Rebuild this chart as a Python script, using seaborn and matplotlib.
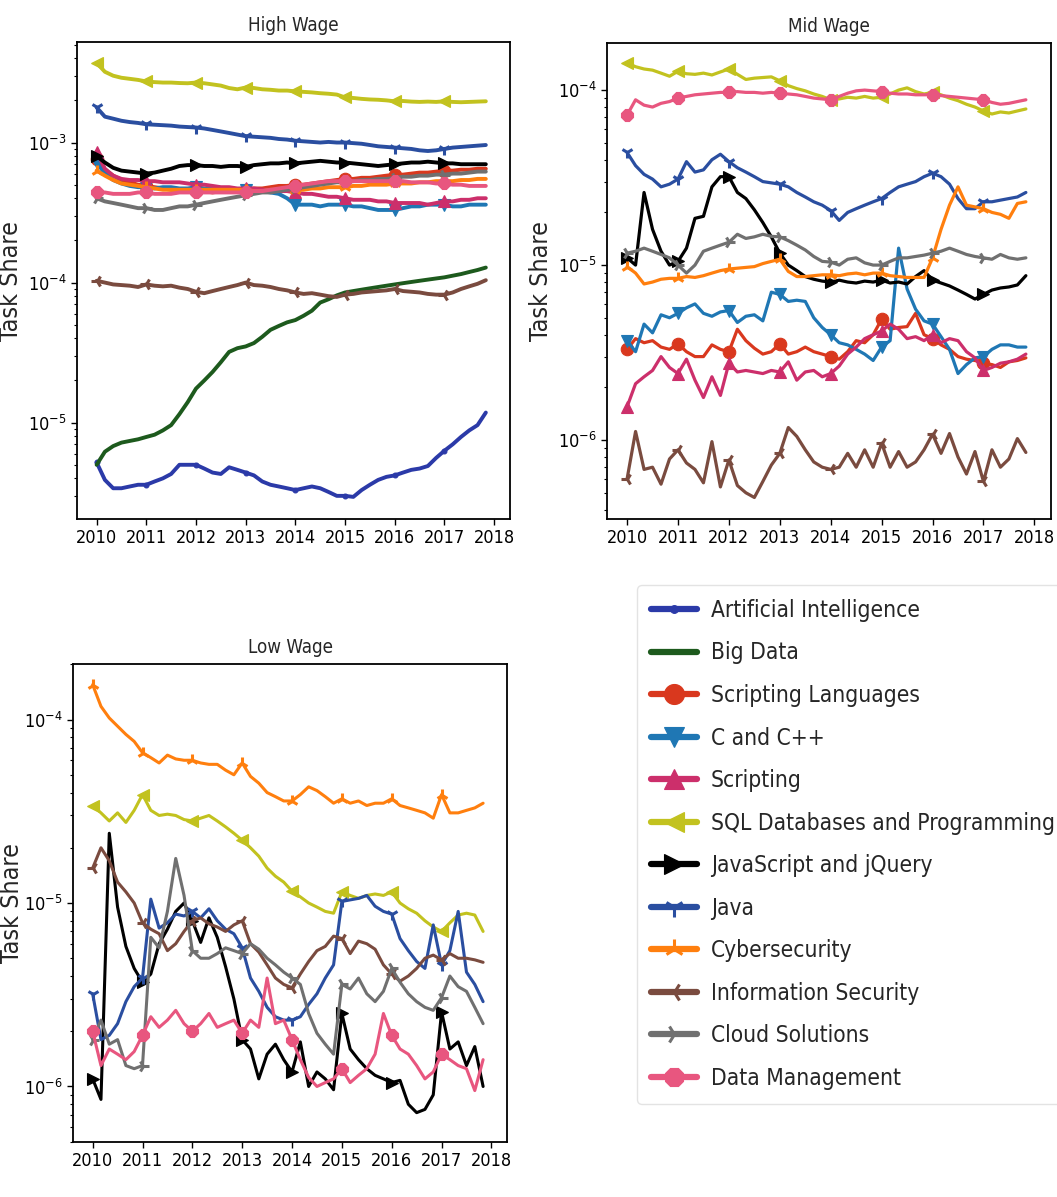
import numpy as np
import pandas as pd
import matplotlib
matplotlib.use('Agg')
import matplotlib.pyplot as plt
from matplotlib import font_manager as fm
import seaborn as sns

# bi-monthly sampling, Jan 2010 .. Nov 2017
dates = pd.date_range('2010-01-01', periods=48, freq='2MS')
years = np.array(dates.year + (dates.month - 1) / 12.0)

skills = ['Artificial Intelligence', 'Big Data', 'Scripting Languages', 'C and C++',
          'Scripting', 'SQL Databases and Programming', 'JavaScript and jQuery', 'Java',
          'Cybersecurity', 'Information Security', 'Cloud Solutions', 'Data Management']
colors = ['#2b3aa8', '#1d5a1d', '#d9381e', '#1f77b4', '#cc2f6b', '#c2c21f',
          '#000000', '#2a4ea0', '#ff7f0e', '#7a4b3f', '#707070', '#e8567f']
markers = ['.', ',', 'o', 'v', '^', '<', '>', '1', '2', '3', '4', '8']

# ---- High wage ----
high_ai = np.array([5.2, 3.9, 3.4, 3.4, 3.5, 3.6, 3.6, 3.8, 4.0, 4.3, 5.0, 5.0,
                    5.0, 4.7, 4.4, 4.3, 4.8, 4.6, 4.4, 4.2, 3.8, 3.6, 3.5, 3.4,
                    3.3, 3.4, 3.5, 3.4, 3.2, 3.0, 3.0, 2.95, 3.3, 3.6, 3.9, 4.1,
                    4.2, 4.4, 4.6, 4.7, 4.9, 5.6, 6.3, 7.0, 7.9, 8.8, 9.6, 11.8]) * 1e-6
high_bigdata = np.array([5.0, 6.2, 6.8, 7.2, 7.4, 7.6, 7.9, 8.2, 8.8, 9.6, 11.5, 14.0,
                         17.5, 20, 23, 27, 32, 34, 35, 37, 41, 46, 49, 52,
                         54, 58, 63, 72, 76, 81, 85, 87, 89, 91, 93, 95,
                         97, 99, 101, 103, 105, 107, 109, 112, 115, 119, 123, 128]) * 1e-6
high_scriptlang = np.array([7.6, 6.4, 5.8, 5.4, 5.2, 5.0, 4.9, 4.8, 4.7, 4.6, 4.6, 4.5,
                            4.5, 4.5, 4.4, 4.5, 4.5, 4.6, 4.6, 4.7, 4.7, 4.8, 4.9, 4.9,
                            5.0, 5.0, 5.1, 5.2, 5.3, 5.4, 5.5, 5.5, 5.6, 5.6, 5.7, 5.8,
                            5.9, 5.9, 6.0, 6.1, 6.1, 6.2, 6.3, 6.3, 6.4, 6.4, 6.5, 6.5]) * 1e-4
high_c = np.array([7.2, 6.0, 5.4, 5.1, 4.9, 4.8, 4.8, 4.7, 4.8, 4.8, 4.7, 4.7,
                   4.8, 4.7, 4.7, 4.7, 4.6, 4.6, 4.6, 4.5, 4.5, 4.4, 4.3, 4.0,
                   3.6, 3.6, 3.6, 3.5, 3.6, 3.6, 3.6, 3.5, 3.5, 3.4, 3.3, 3.3,
                   3.3, 3.4, 3.5, 3.5, 3.6, 3.6, 3.6, 3.5, 3.5, 3.6, 3.6, 3.6]) * 1e-4
high_scripting = np.array([8.6, 6.5, 5.8, 5.5, 5.4, 5.4, 5.3, 5.3, 5.2, 5.2, 5.2, 5.1,
                           5.0, 5.0, 4.9, 4.8, 4.8, 4.7, 4.7, 4.7, 4.6, 4.6, 4.5, 4.5,
                           4.4, 4.3, 4.3, 4.2, 4.1, 4.1, 4.0, 3.9, 3.9, 3.9, 3.8, 3.8,
                           3.7, 3.7, 3.7, 3.7, 3.6, 3.7, 3.8, 3.8, 3.9, 3.9, 4.0, 4.0]) * 1e-4
high_sql = np.array([37, 32, 30, 29, 28.5, 28, 27.3, 27, 26.8, 26.8, 26.6, 26.5,
                     26.8, 26.5, 26, 25.5, 24.5, 24, 24.7, 24.5, 24, 23.8, 23.5, 23.5,
                     23.2, 23, 22.8, 22.5, 22.3, 22, 21, 20.8, 20.5, 20.3, 20.2, 20,
                     19.7, 19.8, 19.6, 19.5, 19.6, 19.5, 19.7, 19.5, 19.4, 19.5, 19.6, 19.7]) * 1e-4
high_js = np.array([8.0, 7.2, 6.6, 6.3, 6.2, 6.1, 6.0, 6.1, 6.3, 6.5, 6.8, 6.9,
                    6.9, 6.8, 6.8, 6.7, 6.8, 6.8, 6.7, 6.9, 7.0, 7.1, 7.1, 7.2,
                    7.1, 7.2, 7.3, 7.4, 7.3, 7.2, 7.2, 7.1, 7.0, 6.9, 6.8, 6.9,
                    7.0, 7.1, 7.2, 7.2, 7.3, 7.2, 7.1, 7.1, 7.0, 7.0, 7.0, 7.0]) * 1e-4
high_java = np.array([17.8, 15.3, 14.8, 14.3, 14.0, 13.8, 13.5, 13.4, 13.3, 13.2, 13.0, 12.9,
                      12.8, 12.6, 12.3, 12.0, 11.7, 11.4, 11.1, 11.0, 10.9, 10.8, 10.6, 10.5,
                      10.3, 10.2, 10.1, 10.0, 10.1, 10.0, 10.0, 9.9, 9.8, 9.6, 9.4, 9.3,
                      9.2, 9.1, 9.0, 8.8, 8.7, 8.8, 9.0, 9.2, 9.3, 9.4, 9.5, 9.6]) * 1e-4
high_cyber = np.array([6.3, 5.8, 5.4, 5.1, 5.0, 4.9, 4.8, 4.7, 4.6, 4.6, 4.6, 4.6,
                       4.6, 4.6, 4.6, 4.6, 4.6, 4.6, 4.6, 4.5, 4.5, 4.6, 4.6, 4.7,
                       4.6, 4.6, 4.7, 4.7, 4.8, 4.8, 4.8, 4.9, 4.9, 5.0, 5.0, 5.0,
                       5.1, 5.1, 5.1, 5.2, 5.2, 5.3, 5.3, 5.3, 5.4, 5.4, 5.5, 5.5]) * 1e-4
high_infosec = np.array([1.03, 1.0, 0.97, 0.96, 0.95, 0.93, 0.97, 0.95, 0.94, 0.95, 0.92, 0.9,
                         0.86, 0.84, 0.87, 0.9, 0.93, 0.96, 1.0, 0.96, 0.95, 0.93, 0.9, 0.88,
                         0.85, 0.83, 0.84, 0.82, 0.8, 0.79, 0.82, 0.83, 0.85, 0.86, 0.87, 0.88,
                         0.9, 0.87, 0.86, 0.85, 0.83, 0.82, 0.82, 0.85, 0.9, 0.94, 0.98, 1.04]) * 1e-4
high_cloud = np.array([4.0, 3.8, 3.7, 3.6, 3.5, 3.4, 3.4, 3.3, 3.3, 3.4, 3.5, 3.5,
                       3.6, 3.7, 3.8, 3.9, 4.0, 4.1, 4.2, 4.3, 4.4, 4.4, 4.5, 4.6,
                       4.7, 4.8, 4.9, 5.0, 5.1, 5.2, 5.2, 5.3, 5.4, 5.4, 5.5, 5.5,
                       5.6, 5.7, 5.7, 5.8, 5.8, 5.9, 5.9, 6.0, 6.0, 6.1, 6.2, 6.2]) * 1e-4
high_dm = np.array([4.4, 4.4, 4.3, 4.3, 4.3, 4.4, 4.4, 4.3, 4.3, 4.3, 4.4, 4.4,
                    4.4, 4.4, 4.4, 4.4, 4.4, 4.4, 4.4, 4.5, 4.5, 4.6, 4.7, 4.8,
                    4.9, 5.0, 5.1, 5.2, 5.3, 5.3, 5.3, 5.3, 5.3, 5.3, 5.3, 5.3,
                    5.3, 5.3, 5.2, 5.2, 5.2, 5.1, 5.1, 5.0, 5.0, 4.9, 4.9, 4.9]) * 1e-4

# ---- Mid wage ----
mid_scriptlang = np.array([3.3, 3.8, 3.6, 3.7, 3.4, 3.3, 3.55, 3.2, 3.0, 3.0, 3.5, 3.3,
                           3.2, 4.3, 3.7, 3.35, 3.1, 3.2, 3.55, 3.1, 3.2, 3.4, 3.2, 3.1,
                           3.0, 2.9, 3.2, 3.7, 3.6, 4.0, 4.9, 4.3, 4.4, 4.45, 5.3, 4.0,
                           3.8, 3.5, 3.3, 3.0, 2.9, 2.85, 2.75, 2.7, 2.6, 2.8, 2.85, 2.95]) * 1e-6
mid_c = np.array([3.7, 3.2, 4.6, 4.1, 5.2, 5.0, 5.3, 5.7, 6.0, 5.3, 5.1, 5.4,
                  5.5, 4.7, 5.1, 5.2, 4.8, 7.0, 6.8, 6.2, 6.3, 6.2, 5.0, 4.4,
                  4.0, 3.6, 3.5, 3.3, 3.1, 2.85, 3.4, 3.7, 12.5, 7.3, 5.6, 4.8,
                  4.6, 3.9, 3.3, 2.4, 2.7, 2.95, 3.0, 3.3, 3.5, 3.5, 3.4, 3.4]) * 1e-6
mid_scripting = np.array([1.55, 2.1, 2.3, 2.5, 3.0, 2.6, 2.4, 2.9, 2.2, 1.75, 2.3, 1.8,
                          2.75, 2.45, 2.5, 2.45, 2.4, 2.5, 2.45, 2.8, 2.2, 2.45, 2.5, 2.3,
                          2.4, 2.65, 3.1, 3.4, 3.8, 4.0, 4.2, 4.6, 4.3, 3.8, 3.9, 3.7,
                          4.0, 3.6, 3.8, 3.7, 3.2, 2.95, 2.5, 2.6, 2.75, 2.8, 2.9, 3.1]) * 1e-6
mid_sql = np.array([14.3, 13.6, 13.2, 13.0, 12.5, 12.0, 12.8, 12.4, 12.3, 12.5, 12.2, 12.7,
                    13.2, 12.3, 11.5, 11.7, 11.8, 11.9, 11.3, 10.6, 10.2, 9.9, 9.5, 9.2,
                    8.8, 8.9, 9.1, 9.0, 9.2, 9.0, 9.1, 9.5, 10.0, 10.3, 9.8, 9.5,
                    9.7, 9.4, 9.0, 8.7, 8.3, 8.0, 7.6, 7.3, 7.5, 7.4, 7.6, 7.8]) * 1e-5
mid_js = np.array([1.1, 1.0, 2.6, 1.6, 1.2, 1.0, 1.05, 1.25, 1.85, 1.9, 2.8, 3.2,
                   3.2, 2.6, 2.4, 2.07, 1.75, 1.45, 1.17, 1.0, 0.93, 0.86, 0.83, 0.81,
                   0.8, 0.82, 0.8, 0.79, 0.81, 0.8, 0.82, 0.79, 0.8, 0.78, 0.86, 0.93,
                   0.82, 0.79, 0.76, 0.72, 0.68, 0.64, 0.68, 0.72, 0.74, 0.75, 0.77, 0.87]) * 1e-5
mid_java = np.array([4.4, 3.7, 3.3, 3.1, 2.8, 2.9, 3.1, 3.9, 3.4, 3.5, 4.0, 4.3,
                     3.9, 3.6, 3.4, 3.2, 3.0, 2.95, 2.9, 2.8, 2.6, 2.45, 2.3, 2.2,
                     2.05, 1.8, 2.0, 2.1, 2.2, 2.3, 2.4, 2.6, 2.8, 2.9, 3.0, 3.2,
                     3.35, 3.2, 2.9, 2.4, 2.1, 2.1, 2.3, 2.3, 2.35, 2.4, 2.45, 2.6]) * 1e-5
mid_cyber = np.array([0.98, 0.9, 0.78, 0.8, 0.83, 0.84, 0.84, 0.86, 0.85, 0.87, 0.9, 0.93,
                      0.95, 0.96, 0.97, 0.98, 1.02, 1.05, 1.08, 0.92, 0.86, 0.86, 0.87, 0.88,
                      0.88, 0.87, 0.89, 0.9, 0.88, 0.9, 0.9, 0.87, 0.86, 0.85, 0.85, 0.85,
                      1.1, 1.6, 2.2, 2.8, 2.2, 2.15, 2.1, 2.0, 1.95, 1.85, 2.25, 2.3]) * 1e-5
mid_infosec = np.array([6.0, 11.2, 6.8, 7.0, 5.6, 7.8, 8.8, 7.4, 6.8, 5.7, 9.8, 5.4,
                        7.7, 5.5, 5.0, 4.7, 5.8, 7.2, 8.4, 11.8, 10.5, 8.8, 7.5, 7.0,
                        6.8, 7.0, 8.4, 7.0, 8.8, 7.0, 9.6, 7.0, 8.6, 7.0, 7.5, 8.8,
                        10.8, 8.4, 10.9, 8.0, 6.4, 8.6, 5.8, 8.8, 7.0, 7.8, 10.2, 8.5]) * 1e-7
mid_cloud = np.array([1.17, 1.2, 1.25, 1.2, 1.15, 1.1, 1.0, 0.9, 1.0, 1.2, 1.25, 1.3,
                      1.35, 1.5, 1.42, 1.45, 1.5, 1.46, 1.45, 1.38, 1.3, 1.22, 1.12, 1.05,
                      1.04, 1.0, 1.08, 1.1, 1.03, 1.0, 1.0, 1.05, 1.1, 1.1, 1.12, 1.14,
                      1.17, 1.2, 1.25, 1.2, 1.15, 1.12, 1.1, 1.08, 1.15, 1.1, 1.08, 1.1]) * 1e-5
mid_dm = np.array([7.2, 8.8, 8.2, 8.0, 8.4, 8.6, 9.0, 9.2, 9.4, 9.5, 9.6, 9.7,
                   9.7, 9.8, 9.7, 9.7, 9.6, 9.7, 9.6, 9.5, 9.4, 9.2, 9.0, 8.9,
                   8.8, 9.2, 9.6, 9.9, 10.0, 9.9, 9.8, 9.6, 9.5, 9.5, 9.4, 9.4,
                   9.4, 9.3, 9.2, 9.1, 9.0, 8.9, 8.8, 8.5, 8.3, 8.4, 8.6, 8.8]) * 1e-5

# ---- Low wage ----
low_sql = np.array([3.4, 3.1, 2.8, 3.1, 2.75, 3.2, 3.9, 3.2, 3.0, 3.05, 3.0, 2.85,
                    2.8, 2.9, 3.0, 2.8, 2.6, 2.4, 2.2, 2.0, 1.8, 1.55, 1.4, 1.3,
                    1.16, 1.08, 1.0, 0.95, 0.9, 0.88, 1.15, 1.1, 1.06, 1.1, 1.12, 1.1,
                    1.15, 1.0, 0.93, 0.88, 0.8, 0.74, 0.7, 0.78, 0.86, 0.88, 0.86, 0.7]) * 1e-5
low_js = np.array([1.1, 0.85, 24, 9.5, 5.8, 4.4, 3.7, 4.1, 6.0, 7.2, 9.0, 10.0,
                   8.0, 6.1, 8.3, 6.5, 4.5, 3.0, 1.8, 1.6, 1.1, 1.5, 1.7, 1.4,
                   1.2, 1.75, 1.0, 1.2, 1.1, 0.96, 2.5, 1.6, 1.4, 1.25, 1.15, 1.1,
                   1.05, 1.08, 0.8, 0.72, 0.75, 0.9, 2.55, 1.6, 1.75, 1.3, 1.65, 1.0]) * 1e-6
low_java = np.array([3.2, 1.8, 1.9, 2.2, 2.9, 3.5, 3.9, 10.5, 7.3, 7.8, 8.7, 8.5,
                     9.0, 8.3, 9.3, 8.0, 7.2, 6.8, 5.7, 3.9, 3.3, 2.7, 2.4, 2.3,
                     2.3, 2.4, 2.8, 3.2, 3.9, 4.6, 10.2, 10.4, 10.6, 11.0, 9.6, 9.0,
                     8.7, 6.4, 5.5, 4.8, 4.4, 7.6, 4.6, 5.5, 9.0, 4.2, 3.6, 2.9]) * 1e-6
low_cyber = np.array([15.5, 11.8, 10.2, 9.2, 8.3, 7.6, 6.6, 6.2, 5.8, 6.4, 6.1, 6.0,
                      6.0, 5.8, 5.7, 5.7, 5.3, 5.0, 5.8, 4.9, 4.5, 4.0, 3.8, 3.6,
                      3.6, 3.9, 4.3, 4.1, 3.8, 3.5, 3.7, 3.5, 3.6, 3.4, 3.5, 3.5,
                      3.7, 3.4, 3.3, 3.2, 3.1, 2.9, 3.9, 3.1, 3.1, 3.2, 3.3, 3.5]) * 1e-5
low_infosec = np.array([15.5, 20, 17, 13, 11.5, 10, 7.8, 7.2, 6.8, 5.5, 6.0, 7.0,
                        8.0, 8.3, 7.7, 7.4, 7.0, 7.6, 8.0, 6.0, 5.4, 4.6, 3.9, 3.6,
                        3.45, 4.1, 4.8, 5.5, 5.8, 6.6, 6.4, 5.3, 6.2, 6.0, 5.6, 4.6,
                        4.1, 3.75, 4.0, 4.4, 5.0, 5.2, 4.9, 5.3, 5.0, 5.0, 4.9, 4.75]) * 1e-6
low_cloud = np.array([1.8, 2.3, 1.7, 1.8, 1.3, 1.25, 1.3, 6.5, 5.7, 9.0, 17.5, 11.0,
                      5.5, 5.0, 5.0, 5.3, 5.7, 5.5, 5.3, 6.0, 5.6, 5.0, 4.6, 4.2,
                      3.9, 3.6, 2.5, 1.95, 1.7, 1.5, 3.6, 3.4, 3.9, 3.2, 2.9, 3.3,
                      4.4, 3.7, 3.2, 2.9, 2.7, 2.6, 3.05, 4.0, 3.5, 3.3, 2.7, 2.2]) * 1e-6
low_dm = np.array([2.0, 1.3, 1.6, 1.5, 1.4, 1.55, 1.9, 2.4, 2.1, 2.3, 2.6, 2.2,
                   2.0, 2.2, 2.5, 2.1, 2.2, 2.3, 1.95, 2.3, 2.1, 3.9, 2.2, 2.3,
                   1.8, 1.4, 1.12, 1.0, 1.05, 1.1, 1.25, 1.05, 1.15, 1.25, 1.5, 2.5,
                   1.9, 1.6, 1.5, 1.3, 1.1, 1.2, 1.5, 1.4, 1.3, 1.25, 0.95, 1.4]) * 1e-6

high = dict(zip(skills, [high_ai, high_bigdata, high_scriptlang, high_c, high_scripting,
                         high_sql, high_js, high_java, high_cyber, high_infosec,
                         high_cloud, high_dm]))
mid = {'Scripting Languages': mid_scriptlang, 'C and C++': mid_c, 'Scripting': mid_scripting,
       'SQL Databases and Programming': mid_sql, 'JavaScript and jQuery': mid_js,
       'Java': mid_java, 'Cybersecurity': mid_cyber, 'Information Security': mid_infosec,
       'Cloud Solutions': mid_cloud, 'Data Management': mid_dm}
low = {'SQL Databases and Programming': low_sql, 'JavaScript and jQuery': low_js,
       'Java': low_java, 'Cybersecurity': low_cyber, 'Information Security': low_infosec,
       'Cloud Solutions': low_cloud, 'Data Management': low_dm}

sns.set_style('ticks')

# narrow font if one is available, else plain DejaVu Sans at smaller sizes
def font_path(**kw):
    try:
        return fm.findfont(fm.FontProperties(**kw), fallback_to_default=False)
    except Exception:
        return ''

stretch = 'normal'
if 'Narrow' in font_path(family='Liberation Sans Narrow'):
    family, tick_fs, title_fs, leg_fs = 'Liberation Sans Narrow', 13, 14.5, 20
elif 'Condensed' in font_path(family='DejaVu Sans', stretch='condensed'):
    family, tick_fs, title_fs, leg_fs = 'DejaVu Sans', 13, 13.5, 16.3
    stretch = 'condensed'
else:
    family, tick_fs, title_fs, leg_fs = 'DejaVu Sans', 11.5, 12.5, 14.8

plt.rcParams['font.family'] = [family, 'DejaVu Sans']
plt.rcParams['font.stretch'] = stretch
plt.rcParams['axes.edgecolor'] = 'black'
plt.rcParams['xtick.color'] = 'black'
plt.rcParams['ytick.color'] = 'black'

fig = plt.figure(figsize=(10.57, 11.97), dpi=100)
ax_hi = fig.add_axes([0.0726, 0.5664, 0.4099, 0.3983])
ax_mid = fig.add_axes([0.574, 0.5664, 0.420, 0.3974])
ax_lo = fig.add_axes([0.0688, 0.0462, 0.4112, 0.3988])

panels = [(ax_hi, 'High Wage', high, 2.8, (2.05e-6, 5.2e-3), -0.125),
          (ax_mid, 'Mid Wage', mid, 2.3, (3.54e-7, 1.85e-4), -0.12),
          (ax_lo, 'Low Wage', low, 2.2, (5.0e-7, 2.0e-4), -0.112)]

for ax, title, data, lw, ylim, ylab_x in panels:
    for skill, col, mk in zip(skills, colors, markers):
        if skill not in data:
            continue
        ms = 7 if mk == '.' else 9
        mew = 2.2 if mk in ('1', '2', '3', '4') else 0.8
        sns.lineplot(x=years, y=data[skill], ax=ax, color=col, marker=mk, markevery=6,
                     markersize=ms, markeredgecolor=col, markeredgewidth=mew,
                     linewidth=lw, label=skill, legend=False)
    ax.set_yscale('log')
    ax.set_ylim(*ylim)
    ax.set_xlim(2009.6, 2018.32)
    ax.set_xticks(range(2010, 2019))
    ax.set_title(title, fontsize=title_fs, pad=8)
    ax.set_ylabel('Task Share', fontsize=18, family='DejaVu Sans')
    ax.yaxis.set_label_coords(ylab_x, 0.5)
    ax.set_xlabel('')
    ax.tick_params(axis='both', which='major', labelsize=tick_fs, length=4, width=1)
    ax.tick_params(axis='y', which='minor', length=2.5, width=0.8)
    for sp in ax.spines.values():
        sp.set_linewidth(1.3)

fs_px = leg_fs * 100 / 72.0
handles, labels = ax_hi.get_legend_handles_labels()
leg = fig.legend(handles, labels, loc='upper left', bbox_to_anchor=(0.6027, 0.5113),
                 borderaxespad=0, fontsize=leg_fs, handlelength=46 / fs_px,
                 handletextpad=14 / fs_px, labelspacing=(46.0 - 1.17 * fs_px) / fs_px,
                 borderpad=14 / fs_px, markerscale=1.6, frameon=True)
for ln in leg.get_lines():
    ln.set_linewidth(4.5)
leg.get_frame().set_edgecolor('#dddddd')

fig.savefig('out.png', dpi=100)
